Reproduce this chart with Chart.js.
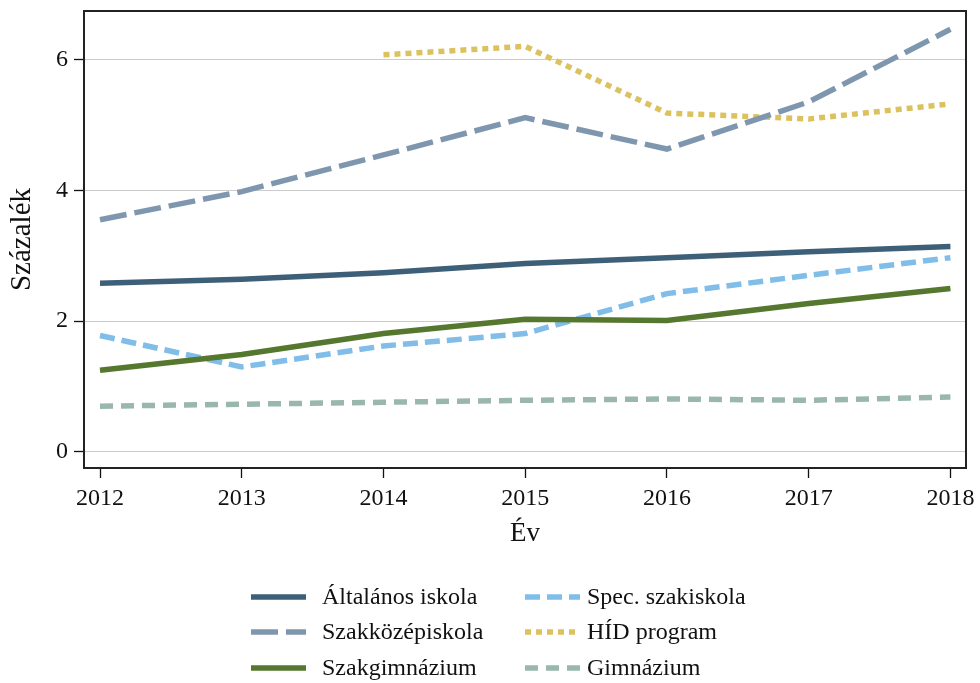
<!DOCTYPE html>
<html>
<head>
<meta charset="utf-8">
<script src="https://cdn.jsdelivr.net/npm/chart.js@4"></script>
<style>
  html, body { margin: 0; padding: 0; background: #fff; }
  #wrap { width: 980px; height: 683px; }
</style>
</head>
<body>
<div id="wrap"><canvas id="myChart" width="980" height="683"></canvas></div>
<script>
// adatok
const evek = [2012, 2013, 2014, 2015, 2016, 2017, 2018];
const altalanos = [2.58, 2.64, 2.74, 2.88, 2.97, 3.06, 3.14];
const szakkozep = [3.55, 3.98, 4.54, 5.11, 4.63, 5.35, 6.46];
const szakgimn = [1.25, 1.49, 1.81, 2.03, 2.01, 2.27, 2.50];
const specSzak = [1.78, 1.30, 1.62, 1.81, 2.42, 2.70, 2.97];
const hid = [null, null, 6.07, 6.20, 5.18, 5.09, 5.32];
const gimn = [0.70, 0.73, 0.76, 0.79, 0.81, 0.79, 0.84];
const yTicks = [0, 2, 4, 6];

const serif = "'Liberation Serif', 'DejaVu Serif', serif";

function pontok(arr) {
  return evek.map((e, i) => ({ x: e, y: arr[i] })).filter(p => p.y !== null);
}

function sor(label, arr, color, dash) {
  return {
    label: label,
    data: pontok(arr),
    borderColor: color,
    backgroundColor: color,
    borderWidth: 5.5,
    borderDash: dash,
    borderCapStyle: "butt",
    borderJoinStyle: "miter",
    pointRadius: 0,
    tension: 0,
    fill: false
  };
}

const datasets = [
  sor("Általános iskola", altalanos, "#3e5f78", []),
  sor("Szakközépiskola", szakkozep, "#7f97ae", [27, 8]),
  sor("Szakgimnázium", szakgimn, "#55772e", []),
  sor("Spec. szakiskola", specSzak, "#80bde9", [15, 7]),
  sor("HÍD program", hid, "#dcc25f", [6, 5]),
  sor("Gimnázium", gimn, "#99b7ae", [13, 8])
];

// keret a rajzterület körül + saját jelmagyarázat
const keretEsLegenda = {
  id: "keretEsLegenda",
  beforeDatasetsDraw(chart) {
    const { ctx, chartArea: a } = chart;
    ctx.save();
    ctx.strokeStyle = "#222";
    ctx.lineWidth = 2;
    ctx.strokeRect(a.left, a.top, a.right - a.left, a.bottom - a.top);
    ctx.restore();
  },
  afterDraw(chart) {
    const ctx = chart.ctx;
    const cols = [{ x: 251, tx: 322 }, { x: 525, tx: 587 }];
    const rows = [597, 632, 668];
    ctx.save();
    ctx.font = "24px " + serif;
    ctx.textBaseline = "middle";
    ctx.fillStyle = "#111";
    chart.data.datasets.forEach((ds, i) => {
      const c = cols[Math.floor(i / 3)];
      const y = rows[i % 3];
      ctx.beginPath();
      ctx.strokeStyle = ds.borderColor;
      ctx.lineWidth = 5.5;
      ctx.lineCap = "butt";
      ctx.setLineDash(ds.borderDash);
      ctx.moveTo(c.x, y);
      ctx.lineTo(c.x + 55, y);
      ctx.stroke();
      ctx.setLineDash([]);
      ctx.fillText(ds.label, c.tx, y + 1);
    });
    ctx.restore();
  }
};

const ctx = document.getElementById("myChart").getContext("2d");
const chart = new Chart(ctx, {
  type: "line",
  data: { datasets: datasets },
  plugins: [keretEsLegenda],
  options: {
    responsive: false,
    animation: false,
    layout: { padding: { left: 0, top: 11, right: 14, bottom: 0 } },
    plugins: { legend: { display: false }, tooltip: { enabled: false } },
    scales: {
      x: {
        type: "linear",
        min: 2011.887,
        max: 2018.11,
        afterBuildTicks: s => { s.ticks = evek.map(v => ({ value: v })); },
        afterFit: s => { s.height = 215; s.paddingLeft = 0; s.paddingRight = 0; },
        border: { display: false },
        grid: { drawOnChartArea: false, drawTicks: true, tickLength: 10, tickColor: "#111", tickWidth: 1.3 },
        ticks: {
          color: "#111",
          font: { family: serif, size: 24 },
          padding: 6,
          maxRotation: 0,
          callback: v => String(v)
        },
        title: {
          display: true,
          text: "Év",
          color: "#111",
          font: { family: serif, size: 27 },
          padding: { top: 0, bottom: 133 }
        }
      },
      y: {
        min: -0.245,
        max: 6.74,
        afterBuildTicks: s => { s.ticks = yTicks.map(v => ({ value: v })); },
        afterFit: s => { s.width = 84; s.paddingTop = 0; s.paddingBottom = 0; },
        border: { display: false },
        grid: { color: "#cccccc", lineWidth: 1, drawTicks: true, tickLength: 10, tickColor: "#111", tickWidth: 1.3 },
        ticks: {
          color: "#111",
          font: { family: serif, size: 24 },
          padding: 6,
          callback: v => String(v)
        },
        title: {
          display: true,
          text: "Százalék",
          color: "#111",
          font: { family: serif, size: 29 },
          padding: { top: 5, bottom: 0 }
        }
      }
    }
  }
});
</script>
</body>
</html>
